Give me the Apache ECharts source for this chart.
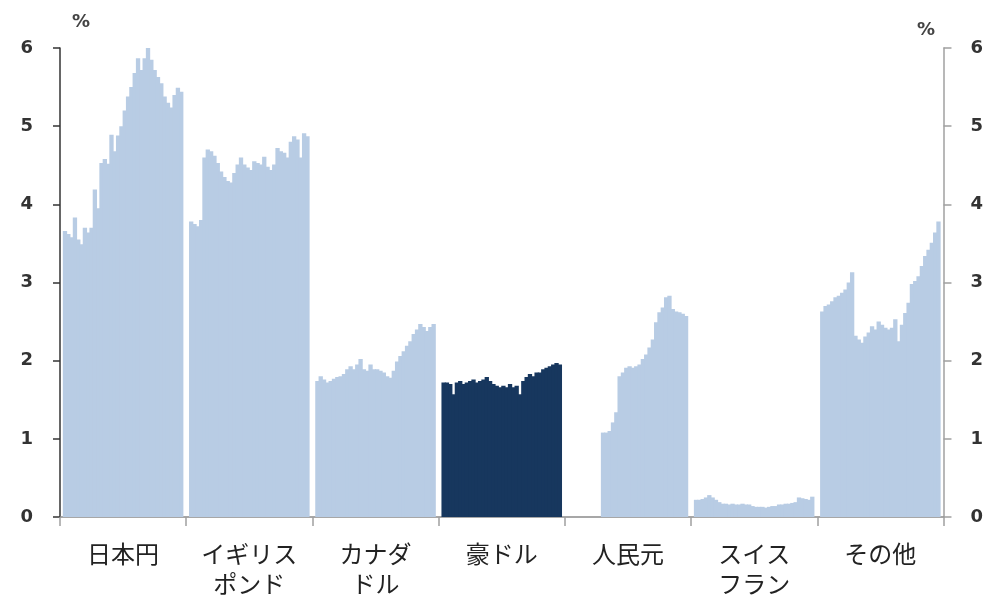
<!DOCTYPE html>
<html>
<head>
<meta charset="utf-8">
<title>外貨準備に占める通貨別シェア</title>
<script src="https://cdn.jsdelivr.net/npm/echarts@6/dist/echarts.min.js"></script>
<style>
  html, body { margin: 0; padding: 0; background: #ffffff; }
  #chart { width: 986px; height: 599px; }
</style>
</head>
<body>
<div id="chart"></div>
<script>
// Currency groups shown along the bottom axis
const categories = ['日本円', 'イギリス\nポンド', 'カナダ\nドル', '豪ドル', '人民元', 'スイス\nフラン', 'その他'];

// Quarterly shares (%) for each currency, oldest first
const yen = [3.66, 3.62, 3.58, 3.83, 3.55, 3.49, 3.70, 3.64, 3.70, 4.19, 3.95, 4.53,
             4.58, 4.52, 4.89, 4.68, 4.88, 5.00, 5.20, 5.38, 5.50, 5.68, 5.87, 5.72,
             5.87, 6.00, 5.85, 5.72, 5.63, 5.55, 5.38, 5.30, 5.24, 5.40, 5.49, 5.44];
const pound = [3.78, 3.75, 3.72, 3.80, 4.60, 4.70, 4.68, 4.62, 4.53, 4.42, 4.35, 4.30,
               4.28, 4.40, 4.51, 4.60, 4.51, 4.47, 4.44, 4.55, 4.53, 4.51, 4.61, 4.48,
               4.44, 4.51, 4.72, 4.68, 4.66, 4.60, 4.80, 4.87, 4.83, 4.60, 4.91, 4.87];
const cad = [1.74, 1.80, 1.76, 1.72, 1.74, 1.77, 1.79, 1.80, 1.83, 1.89, 1.93, 1.89,
             1.95, 2.02, 1.89, 1.87, 1.95, 1.89, 1.89, 1.87, 1.85, 1.80, 1.78, 1.87,
             1.99, 2.06, 2.12, 2.19, 2.25, 2.34, 2.40, 2.47, 2.43, 2.38, 2.43, 2.47];
const aud = [1.72, 1.72, 1.70, 1.57, 1.72, 1.74, 1.70, 1.72, 1.74, 1.76, 1.72, 1.74,
             1.76, 1.79, 1.74, 1.70, 1.68, 1.66, 1.68, 1.66, 1.70, 1.66, 1.68, 1.57,
             1.74, 1.79, 1.83, 1.80, 1.85, 1.85, 1.89, 1.91, 1.93, 1.95, 1.97, 1.95];
// Renminbi is only reported from late 2016 onwards
const cny = [null, null, null, null, null, null, null, null, null, null, 1.08, 1.08,
             1.10, 1.21, 1.34, 1.80, 1.85, 1.91, 1.93, 1.91, 1.93, 1.95, 2.02, 2.08,
             2.17, 2.27, 2.49, 2.62, 2.68, 2.81, 2.83, 2.66, 2.63, 2.62, 2.60, 2.57];
const chf = [0.22, 0.22, 0.23, 0.25, 0.28, 0.25, 0.22, 0.19, 0.17, 0.17, 0.16, 0.17,
             0.16, 0.16, 0.17, 0.16, 0.16, 0.14, 0.13, 0.13, 0.13, 0.12, 0.13, 0.14,
             0.14, 0.16, 0.16, 0.17, 0.17, 0.18, 0.19, 0.25, 0.24, 0.23, 0.22, 0.26];
const others = [2.63, 2.70, 2.72, 2.76, 2.81, 2.83, 2.87, 2.91, 3.00, 3.13, 2.32, 2.27,
                2.23, 2.31, 2.36, 2.44, 2.40, 2.50, 2.46, 2.42, 2.40, 2.42, 2.53, 2.25,
                2.46, 2.61, 2.74, 2.98, 3.02, 3.08, 3.21, 3.34, 3.42, 3.51, 3.64, 3.78];

// Value axis range and step
const yMin = 0, yMax = 6, yStep = 1;

const groups = [yen, pound, cad, aud, cny, chf, others];
const highlightGroup = 3; // 豪ドル

const LIGHT = '#b8cce4';
const DARK = '#17375e';

// One empty slot on each side of every group keeps a thin white gap between groups
const slots = [];
const slotNames = [];
groups.forEach((vals, g) => {
  const color = g === highlightGroup ? DARK : LIGHT;
  slots.push(null); slotNames.push(g + '-s');
  vals.forEach((v, i) => {
    slots.push(v == null ? null : { value: v, itemStyle: { color: color } });
    slotNames.push(g + '-' + i);
  });
  slots.push(null); slotNames.push(g + '-e');
});

const numFont = 'DejaVu Sans';

const chart = echarts.init(document.getElementById('chart'), null, { renderer: 'canvas' });
chart.setOption({
  animation: false,
  backgroundColor: '#ffffff',
  grid: { left: 60, right: 41, top: 48, bottom: 81, containLabel: false },
  xAxis: [
    {
      type: 'category', data: slotNames, position: 'bottom', show: false, boundaryGap: true
    },
    {
      type: 'category', data: categories, position: 'bottom', boundaryGap: true,
      axisLine: { show: true, lineStyle: { color: '#8a8a8a', width: 1.5 } },
      axisTick: { show: true, length: 9, alignWithLabel: false, lineStyle: { color: '#a0a0a0', width: 1.5 } },
      axisLabel: {
        interval: 0, margin: 22, fontSize: 24, lineHeight: 30, color: '#222',
        fontFamily: 'Noto Sans CJK JP'
      },
      splitLine: { show: false }
    }
  ],
  yAxis: [
    {
      type: 'value', position: 'left', min: yMin, max: yMax, interval: yStep,
      axisLine: { show: true, lineStyle: { color: '#333', width: 1.5 } },
      axisTick: { show: true, length: 7, lineStyle: { color: '#333', width: 1.5 } },
      axisLabel: { margin: 27, fontSize: 18, fontWeight: 'bold', color: '#333', fontFamily: numFont },
      splitLine: { show: false }
    },
    {
      type: 'value', position: 'right', min: yMin, max: yMax, interval: yStep,
      axisLine: { show: true, lineStyle: { color: '#a0a0a0', width: 1.5 } },
      axisTick: { show: true, length: 8, lineStyle: { color: '#a0a0a0', width: 1.5 } },
      axisLabel: { margin: 27, fontSize: 18, fontWeight: 'bold', color: '#333', fontFamily: numFont },
      splitLine: { show: false }
    }
  ],
  graphic: [
    { type: 'text', left: 72, top: 13, style: { text: '%', font: 'bold 18px "DejaVu Sans"', fill: '#444' } },
    { type: 'text', left: 917, top: 21, style: { text: '%', font: 'bold 18px "DejaVu Sans"', fill: '#444' } }
  ],
  series: [
    {
      // Bars are slightly wider than their slot so neighbouring bars overlap and leave no seams
      type: 'bar', xAxisIndex: 0, yAxisIndex: 0, data: slots,
      barCategoryGap: '0%', barWidth: '130%',
      itemStyle: { color: LIGHT },
      silent: true
    }
  ]
});
</script>
</body>
</html>
